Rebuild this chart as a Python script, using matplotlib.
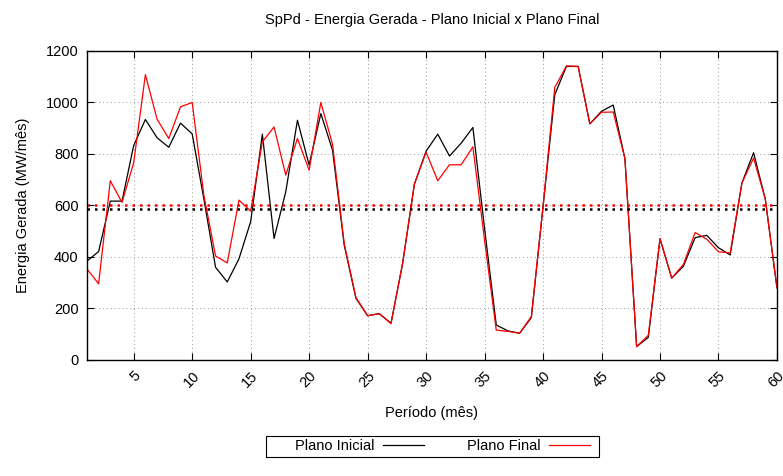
import matplotlib
matplotlib.use("Agg")
import matplotlib.pyplot as plt
from matplotlib.patches import Rectangle
import numpy as np

plt.rcParams['font.family'] = ['Liberation Sans', 'DejaVu Sans']
plt.rcParams['font.size'] = 10.5

# periodos (meses)
periodo = np.arange(1, 61)

plano_inicial = [384, 421, 617, 617, 833, 934, 863, 826, 920, 878,
                 625, 360, 303, 393, 537, 877, 472, 653, 931, 757,
                 957, 815, 446, 240, 172, 180, 143, 377, 683, 811,
                 877, 792, 842, 903, 510, 136, 113, 104, 165, 595,
                 1030, 1140, 1140, 917, 966, 990, 782, 52, 88, 471,
                 318, 364, 475, 484, 436, 408, 687, 805, 625, 280]

plano_final = [354, 296, 696, 612, 766, 1108, 935, 860, 983, 1000,
               640, 404, 377, 621, 578, 847, 905, 718, 860, 737,
               1000, 838, 452, 243, 172, 180, 141, 377, 683, 807,
               696, 758, 758, 828, 465, 116, 111, 104, 169, 598,
               1058, 1142, 1140, 917, 962, 963, 782, 52, 96, 471,
               318, 371, 495, 469, 420, 416, 687, 784, 625, 280]

# medias
media_inicial = 586
media_final = 602

xticks = list(range(5, 61, 5))
yticks = list(range(0, 1201, 200))

fig = plt.figure(figsize=(7.83, 4.76), dpi=100)
ax = fig.add_axes([0.111, 0.2437, 0.8813, 0.6492])

ax.plot(periodo, plano_inicial, color='black', lw=0.9, label='Plano Inicial')
ax.plot(periodo, plano_final, color='#ff0000', lw=0.9, label='Plano Final')
ax.axhline(media_final, color='#ff0000', lw=1.8, ls=(0, (1, 2)))
ax.axhline(media_inicial, color='black', lw=1.8, ls=(0, (1, 2)))

ax.set_xlim(1, 60)
ax.set_ylim(0, 1200)
ax.set_xticks(xticks)
ax.set_yticks(yticks)
ax.set_xticklabels([str(t) for t in xticks], rotation=45, ha='right',
                   rotation_mode='anchor')
ax.tick_params(direction='in', top=True, right=True, length=5, width=0.8,
               pad=6)
ax.grid(True, color='#999999', ls=(0, (1, 3)), lw=0.7)
for s in ax.spines.values():
    s.set_linewidth(1.0)

ax.set_xlabel('Período (mês)', labelpad=12)
ax.set_ylabel('Energia Gerada (MW/mês)', labelpad=11)
fig.text(0.552, 0.957, 'SpPd - Energia Gerada - Plano Inicial x Plano Final',
         ha='center', va='center')

# legenda estilo gnuplot: texto antes da linha, caixa desenhada a parte
leg = fig.legend(loc='center', bbox_to_anchor=(0.5651, 0.062), ncol=2,
                 markerfirst=False, frameon=False, handlelength=2.8,
                 handletextpad=0.6, columnspacing=2.9, borderpad=0.3,
                 borderaxespad=0)
fig.patches.append(Rectangle((266 / 783, 1 - 457 / 476), 333 / 783, 21 / 476,
                             transform=fig.transFigure, fill=False,
                             ec='black', lw=0.8))

fig.savefig('out.png', dpi=100)
